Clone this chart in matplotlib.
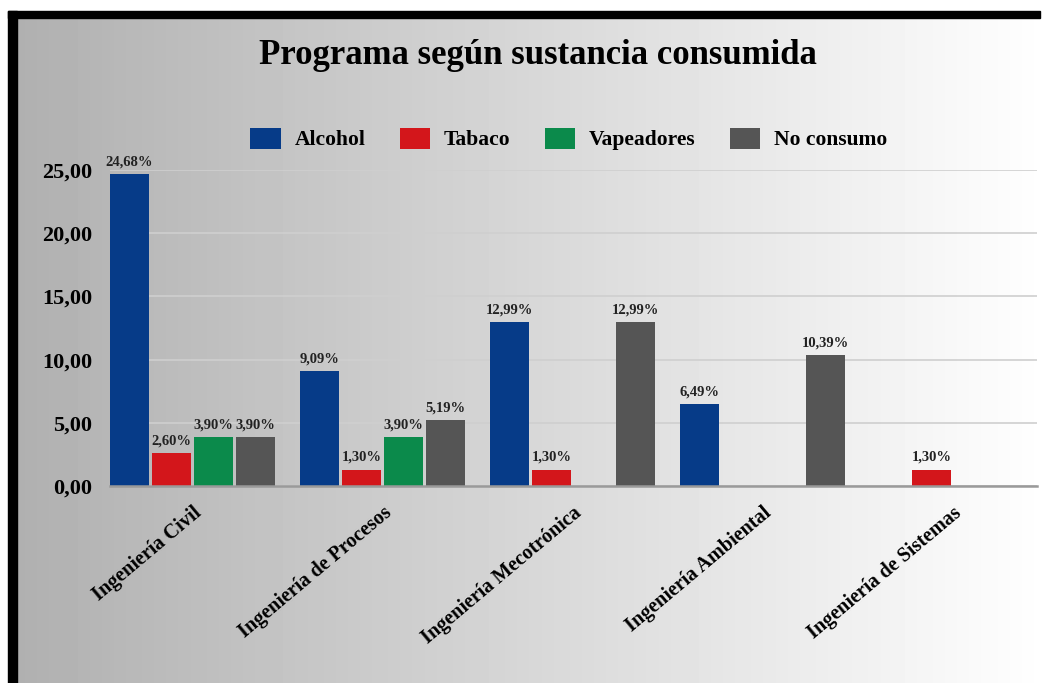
import numpy as np
import matplotlib
matplotlib.use("Agg")
import matplotlib.pyplot as plt
from matplotlib.patches import Rectangle

categories = ["Ingeniería Civil", "Ingeniería de Procesos", "Ingeniería Mecotrónica",
              "Ingeniería Ambiental", "Ingeniería de Sistemas"]
series_names = ["Alcohol", "Tabaco", "Vapeadores", "No consumo"]
alcohol = [24.68, 9.09, 12.99, 6.49, 0]
tabaco = [2.60, 1.30, 1.30, 0, 1.30]
vapeadores = [3.90, 3.90, 0, 0, 0]
no_consumo = [3.90, 5.19, 12.99, 10.39, 0]
yticks = [0, 5, 10, 15, 20, 25]
title = "Programa según sustancia consumida"

colors = ["#063b88", "#d3161b", "#0b8a4b", "#555555"]
W, H = 1050, 683
fig = plt.figure(figsize=(W / 100, H / 100), dpi=100)
plt.rcParams['font.family'] = ['Liberation Serif', 'DejaVu Serif']

# background gradient + border
bg = fig.add_axes([0, 0, 1, 1])
bg.set_xlim(0, W); bg.set_ylim(H, 0); bg.axis('off')
grad = np.linspace(0.69, 1.0, 256).reshape(1, -1)
bg.imshow(grad, cmap='gray', vmin=0, vmax=1, extent=[17, W, H, 18], aspect='auto')
bg.add_patch(Rectangle((8, 11), 1032, 7, color='black'))
bg.add_patch(Rectangle((8, 11), 9, H - 11, color='black'))

ax = fig.add_axes([110 / W, 1 - 486 / H, (1037 - 110) / W, (486 - 170) / H])
ax.patch.set_alpha(0)
data = [alcohol, tabaco, vapeadores, no_consumo]
x = np.arange(len(categories))
pitch, width = 0.221, 0.205
for i, (vals, name, c) in enumerate(zip(data, series_names, colors)):
    pos = x + (i - 1.5) * pitch
    bars = ax.bar(pos, vals, width, color=c, label=name, zorder=3)
    for b, v in zip(bars, vals):
        if v > 0:
            ax.annotate(f"{v:.2f}".replace('.', ',') + "%",
                        (b.get_x() + b.get_width() / 2, v), xytext=(0, 4),
                        textcoords='offset points', ha='center', va='bottom',
                        fontsize=10.5, fontweight='bold', color='#222222',
                        annotation_clip=False)

ax.set_xlim(-0.434, 4.445)
ax.set_ylim(0, 25)
ax.set_yticks(yticks)
ax.set_yticklabels([f"{t:.2f}".replace('.', ',') for t in yticks],
                   fontsize=16, fontweight='bold')
ax.tick_params(axis='y', length=0, pad=13)
ax.set_xticks(x)
ax.set_xticklabels(categories, rotation=40, ha='right', rotation_mode='anchor',
                   fontsize=14.5, fontweight='bold')
ax.tick_params(axis='x', length=0, pad=12)
ax.grid(axis='y', color='#cfcfcf', linewidth=1.2, zorder=0)
for s in ['top', 'right', 'left']:
    ax.spines[s].set_visible(False)
ax.spines['bottom'].set_color('#9a9a9a')
ax.spines['bottom'].set_linewidth(1.8)
ax.spines['bottom'].set_zorder(4)

fig.text(538 / W, 1 - 55 / H, title, ha='center', va='center',
         fontsize=25, fontweight='bold')
fig.legend(loc='center', bbox_to_anchor=(569 / W, 1 - 139 / H), ncol=4,
           frameon=False, prop={'size': 15.5, 'weight': 'bold'},
           handlelength=1.4, handleheight=1.15, handletextpad=0.65,
           columnspacing=1.6)

fig.savefig("out.png", dpi=100)
